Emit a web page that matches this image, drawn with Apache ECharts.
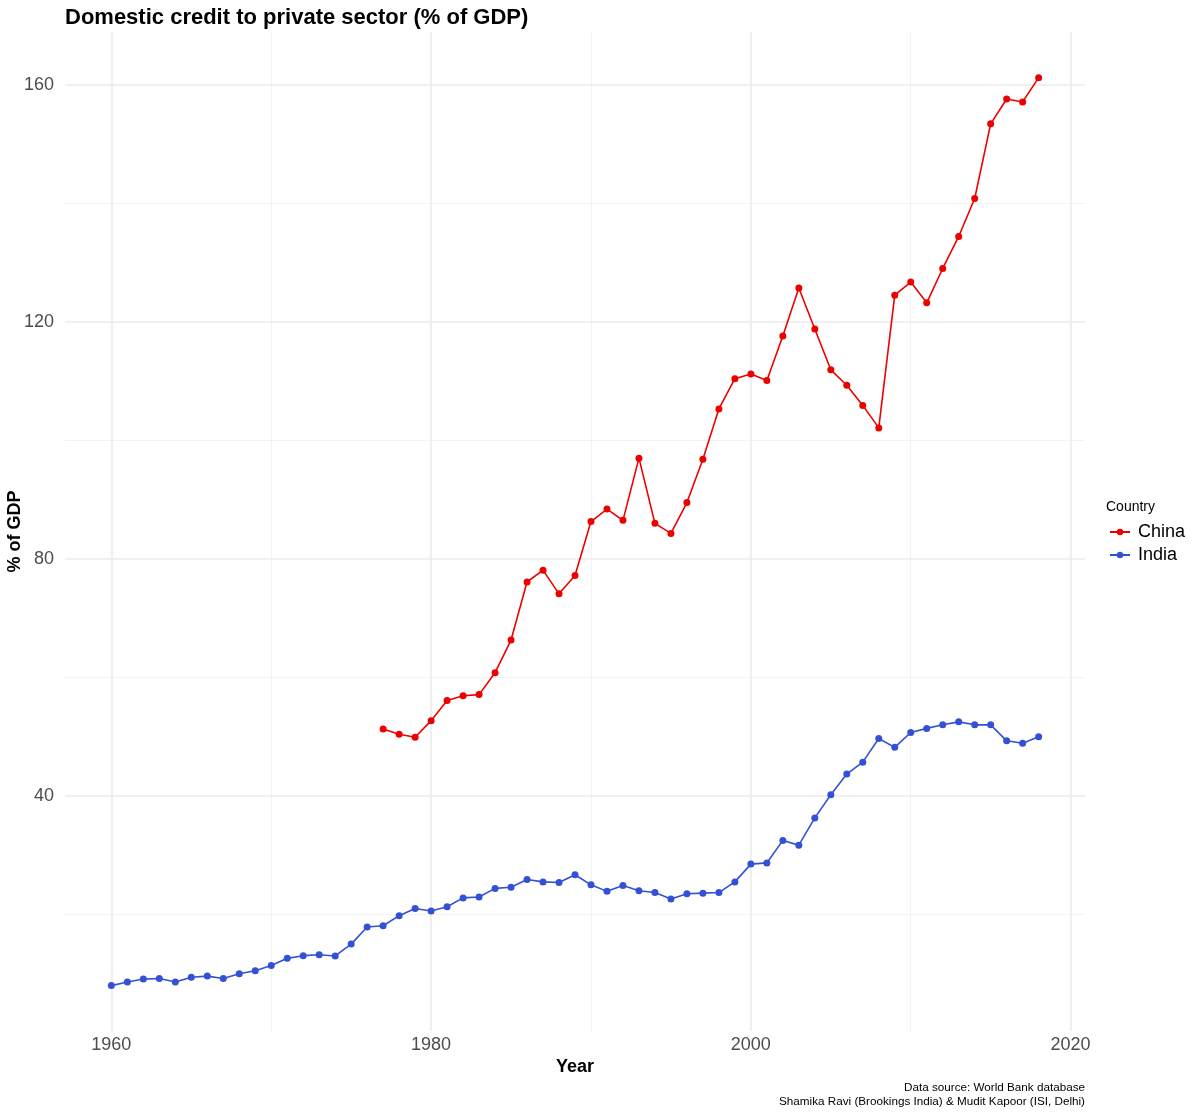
<!DOCTYPE html>
<html>
<head>
<meta charset="utf-8">
<script src="https://cdn.jsdelivr.net/npm/echarts@6/dist/echarts.min.js"></script>
<style>html,body{margin:0;padding:0;background:#fff;}#c{width:1200px;height:1114px;}</style>
</head>
<body>
<div id="c"></div>
<script>
const chinaYears = [1977,1978,1979,1980,1981,1982,1983,1984,1985,1986,1987,1988,1989,1990,1991,1992,1993,1994,1995,1996,1997,1998,1999,2000,2001,2002,2003,2004,2005,2006,2007,2008,2009,2010,2011,2012,2013,2014,2015,2016,2017,2018];
const chinaValues = [51.3,50.4,49.9,52.7,56.1,56.9,57.1,60.8,66.3,76.1,78.1,74.1,77.2,86.3,88.4,86.5,97.0,86.0,84.3,89.5,96.8,105.3,110.4,111.2,110.1,117.6,125.7,118.8,111.9,109.3,105.9,102.1,124.5,126.7,123.2,129.0,134.4,140.8,153.4,157.6,157.1,161.2];
const indiaYears = [1960,1961,1962,1963,1964,1965,1966,1967,1968,1969,1970,1971,1972,1973,1974,1975,1976,1977,1978,1979,1980,1981,1982,1983,1984,1985,1986,1987,1988,1989,1990,1991,1992,1993,1994,1995,1996,1997,1998,1999,2000,2001,2002,2003,2004,2005,2006,2007,2008,2009,2010,2011,2012,2013,2014,2015,2016,2017,2018];
const indiaValues = [8.0,8.6,9.1,9.2,8.6,9.4,9.6,9.2,10.0,10.5,11.4,12.6,13.05,13.2,13.0,15.0,17.9,18.1,19.8,21.0,20.6,21.3,22.8,22.95,24.4,24.6,25.9,25.5,25.4,26.7,25.0,23.9,24.9,24.0,23.7,22.6,23.5,23.6,23.7,25.5,28.5,28.7,32.5,31.7,36.3,40.2,43.7,45.7,49.7,48.2,50.7,51.4,52.0,52.5,52.0,52.0,49.3,48.9,50.0];
const xMajorTicks = [1960,1980,2000,2020];
const xMinorTicks = [1970,1990,2010];
const yMajorTicks = [40,80,120,160];
const yMinorTicks = [20,60,100,140];

const FONT = '"Liberation Sans", Arial, Helvetica, sans-serif';
const chart = echarts.init(document.getElementById('c'), null, {renderer:'canvas'});

const pairs = (xs, ys) => xs.map((x,i)=>[x, ys[i]]);
const majorStyle = {color:'#EBEBEB', width:1.6, type:'solid'};
const minorStyle = {color:'#F3F3F3', width:1, type:'solid'};
const gridLines = [
  ...xMinorTicks.map(v=>({xAxis:v, lineStyle:minorStyle})),
  ...yMinorTicks.map(v=>({yAxis:v, lineStyle:minorStyle})),
  ...xMajorTicks.map(v=>({xAxis:v, lineStyle:majorStyle})),
  ...yMajorTicks.map(v=>({yAxis:v, lineStyle:majorStyle}))
];

chart.setOption({
  animation:false,
  backgroundColor:'#ffffff',
  textStyle:{fontFamily:FONT},
  title:[
    {text:'Domestic credit to private sector (% of GDP)', left:60, top:2,
     textStyle:{fontFamily:FONT, fontSize:22, fontWeight:'bold', color:'#000'}},
    {text:'Country', left:1101, top:495,
     textStyle:{fontFamily:FONT, fontSize:14, fontWeight:'normal', color:'#000'}}
  ],
  legend:{
    data:['China','India'], orient:'vertical', left:1104, top:518,
    itemWidth:20, itemHeight:8, itemGap:5,
    textStyle:{fontFamily:FONT, fontSize:18, color:'#000', padding:[0,0,0,3]}
  },
  grid:{left:65, right:115, top:32, bottom:83, containLabel:false, outerBoundsMode:'none'},
  xAxis:{
    type:'value', min:1957.1, max:2020.9,
    name:'Year', nameLocation:'middle', nameGap:27, nameMoveOverlap:false,
    nameTextStyle:{fontFamily:FONT, fontSize:18, fontWeight:'bold', color:'#000'},
    axisLine:{show:false}, axisTick:{show:false}, splitLine:{show:false},
    axisLabel:{customValues:xMajorTicks, formatter:v=>String(v), fontFamily:FONT, fontSize:18, color:'#4D4D4D', margin:5}
  },
  yAxis:{
    type:'value', min:0.34, max:168.9,
    name:'% of GDP', nameLocation:'middle', nameGap:41, nameMoveOverlap:false,
    nameTextStyle:{fontFamily:FONT, fontSize:18, fontWeight:'bold', color:'#000'},
    axisLine:{show:false}, axisTick:{show:false}, splitLine:{show:false},
    axisLabel:{customValues:yMajorTicks, formatter:v=>String(v), fontFamily:FONT, fontSize:18, color:'#4D4D4D', margin:11}
  },
  graphic:[{
    type:'text', x:1085, y:1081,
    style:{text:'Data source: World Bank database\nShamika Ravi (Brookings India) & Mudit Kapoor (ISI, Delhi)',
      align:'right', textAlign:'right', fontFamily:FONT, fontSize:11.7, lineHeight:14, fill:'#000'}
  }],
  series:[
    {name:'grid', type:'line', data:[], z:0, silent:true,
     markLine:{z:0, silent:true, symbol:['none','none'], label:{show:false}, animation:false, data:gridLines}},
    {name:'China', type:'line', data:pairs(chinaYears, chinaValues), z:10,
     color:'#EE0000', symbol:'circle', symbolSize:7, showSymbol:true,
     lineStyle:{width:1.6, color:'#EE0000'}, itemStyle:{color:'#EE0000'}},
    {name:'India', type:'line', data:pairs(indiaYears, indiaValues), z:10,
     color:'#3451D6', symbol:'circle', symbolSize:7, showSymbol:true,
     lineStyle:{width:1.6, color:'#3451D6'}, itemStyle:{color:'#3451D6'}}
  ]
});
</script>
</body>
</html>
